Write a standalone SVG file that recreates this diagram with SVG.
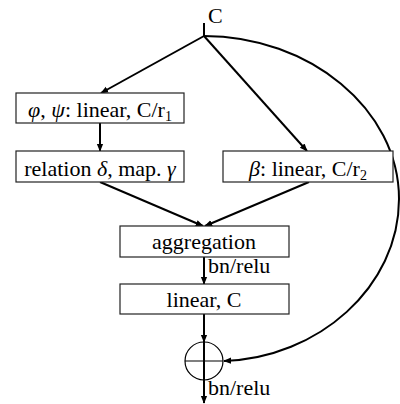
<svg xmlns="http://www.w3.org/2000/svg" width="400" height="404" viewBox="0 0 400 404">
<style>
text{font-family:"Liberation Serif","Times New Roman",serif;font-size:22px;fill:#000}
.box{fill:#fff;stroke:#222;stroke-width:1.2}
.c{text-anchor:middle}
.e{stroke:#000;stroke-width:2;fill:none}
.i{font-style:italic}
.sub{font-size:14px}
</style>
<defs>
<marker id="ah" viewBox="0 0 10 10" refX="9" refY="5" markerWidth="8" markerHeight="8" markerUnits="userSpaceOnUse" orient="auto">
<path d="M0,1 L10,5 L0,9 z" fill="#000"/>
</marker>
</defs>
<g id="connectors">
<line class="e" x1="204" y1="23" x2="204" y2="36"/>
<line class="e" x1="204" y1="36" x2="101" y2="93" marker-end="url(#ah)"/>
<line class="e" x1="204" y1="36" x2="307" y2="151" marker-end="url(#ah)"/>
<line class="e" x1="100" y1="123" x2="100" y2="151" marker-end="url(#ah)"/>
<line class="e" x1="100" y1="182" x2="203" y2="226" marker-end="url(#ah)"/>
<line class="e" x1="309" y1="182" x2="205" y2="226" marker-end="url(#ah)"/>
<line class="e" x1="204" y1="257" x2="204" y2="284" marker-end="url(#ah)"/>
<line class="e" x1="204" y1="314" x2="204" y2="342" marker-end="url(#ah)"/>
<line class="e" x1="204" y1="342" x2="204" y2="403" marker-end="url(#ah)"/>
<path class="e" d="M204,36 C309,36 399,109 399,199 C399,287 318,358 224,361" marker-end="url(#ah)"/>
</g>
<g id="input"><text x="208" y="23">C</text></g>
<g id="phipsi">
<rect class="box" x="16" y="93" width="168" height="30"/>
<text class="c" x="100" y="117"><tspan class="i">φ</tspan>, <tspan class="i">ψ</tspan>: linear, C/r<tspan class="sub" dy="4">1</tspan></text>
</g>
<g id="relation">
<rect class="box" x="16" y="151" width="168" height="31"/>
<text class="c" x="100" y="176">relation <tspan class="i">δ</tspan>, map. <tspan class="i">γ</tspan></text>
</g>
<g id="beta">
<rect class="box" x="223" y="151" width="170" height="31"/>
<text class="c" x="308" y="176"><tspan class="i">β</tspan>: linear, C/r<tspan class="sub" dy="4">2</tspan></text>
</g>
<g id="aggregation">
<rect class="box" x="120" y="226" width="169" height="31"/>
<text class="c" x="204" y="249">aggregation</text>
</g>
<text x="208" y="273">bn/relu</text>
<g id="linear">
<rect class="box" x="120" y="284" width="169" height="30"/>
<text class="c" x="204" y="307">linear, C</text>
</g>
<g id="sum">
<circle cx="204" cy="361" r="19" fill="none" stroke="#000" stroke-width="1.2"/>
<line x1="185" y1="361" x2="223" y2="361" stroke="#000" stroke-width="1.2"/>
<line x1="204" y1="342" x2="204" y2="380" stroke="#000" stroke-width="1.2"/>
</g>
<text x="208" y="395">bn/relu</text>
</svg>
